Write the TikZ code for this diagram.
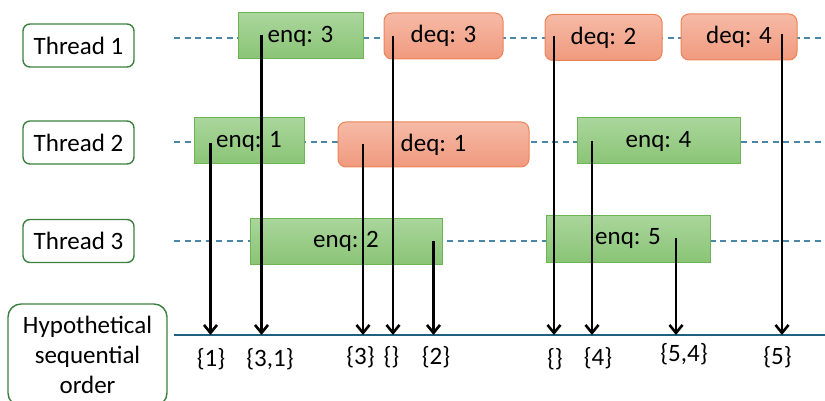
\documentclass[tikz,border=0pt]{standalone}
\usepackage{fontspec}
\setmainfont{Carlito}
\usepackage{tikz}
\usetikzlibrary{arrows.meta}
\definecolor{laneblue}{HTML}{4A86A8}
\definecolor{axisblue}{HTML}{1F5F80}
\definecolor{threadedge}{HTML}{3C8040}
\definecolor{enqtop}{HTML}{AAD69C}
\definecolor{enqbottom}{HTML}{8AC476}
\definecolor{enqedge}{HTML}{6DB552}
\definecolor{deqtop}{HTML}{F6BAA6}
\definecolor{deqbottom}{HTML}{F09A7E}
\definecolor{deqedge}{HTML}{EC8457}

\begin{document}
\begin{tikzpicture}[
  x=1pt, y=-1pt,
  font=\fontsize{25}{30}\selectfont,
  thread/.style={draw=threadedge, line width=1.4pt, fill=white, rounded corners=7pt,
    minimum width=111pt, minimum height=43pt, inner sep=0pt, align=center},
  enq/.style={draw=enqedge, line width=1pt, top color=enqtop, bottom color=enqbottom,
    minimum height=46pt, inner sep=0pt},
  deq/.style={draw=deqedge, line width=1pt, top color=deqtop, bottom color=deqbottom,
    rounded corners=8pt, minimum height=46pt, inner sep=0pt},
  lane/.style={draw=laneblue, line width=1.2pt, dash pattern=on 6pt off 4.5pt},
  lin/.style={-{Straight Barb[length=8pt, width=13pt]}, line width=2.6pt, draw=black},
  setval/.style={inner sep=0pt}
]
  \useasboundingbox (0,0) rectangle (825,401);
  \clip (0,0) rectangle (825,401);

  % lanes
  \draw[lane] (174,38) -- (825,38);
  \draw[lane] (174,142) -- (825,142);
  \draw[lane] (174,241) -- (825,241);

  \node[thread] (t1) at (78.5,45.5) {Thread 1};
  \node[thread] (t2) at (78.5,142.5) {Thread 2};
  \node[thread] (t3) at (78.5,241) {Thread 3};
  \node[thread, rounded corners=13pt, minimum width=159pt, minimum height=102pt]
    (hypo) at (87.5,355) {Hypothetical\\sequential\\order};

  % operations
  \node[enq, minimum width=125pt] (enq3) at (300.5,36) {enq: 3};
  \node[deq, minimum width=119pt] (deq3) at (443.5,36) {deq: 3};
  \node[deq, minimum width=117pt] (deq2) at (603.5,37.5) {deq: 2};
  \node[deq, minimum width=116pt] (deq4) at (739,37) {deq: 4};
  \node[enq, minimum width=110pt] (enq1) at (249,141) {enq: 1};
  \node[deq, minimum width=191pt, minimum height=45pt] (deq1) at (433.5,144.5) {deq: 1};
  \node[enq, minimum width=163pt] (enq4) at (658.5,141) {enq: 4};
  \node[enq, minimum width=192pt] (enq2) at (346,241) {enq: 2};
  \node[enq, minimum width=164pt, minimum height=47pt] (enq5) at (628,238.5) {enq: 5};

  % sequential order axis
  \coordinate (ax0) at (174,335);
  \coordinate (ax1) at (825,335);
  \draw[draw=axisblue, line width=2.6pt] (ax0) -- (ax1);

  % linearization points
  \coordinate (p1) at (210.5,143);
  \coordinate (p2) at (261.5,35);
  \coordinate (p3) at (363,144);
  \coordinate (p4) at (393,36);
  \coordinate (p5) at (433.5,241);
  \coordinate (p6) at (554,36);
  \coordinate (p7) at (592,141);
  \coordinate (p8) at (676,238);
  \coordinate (p9) at (782,34);

  \draw[lin] (p1) -- (p1 |- ax0);
  \draw[lin] (p2) -- (p2 |- ax0);
  \draw[lin] (p3) -- (p3 |- ax0);
  \draw[lin] (p4) -- (p4 |- ax0);
  \draw[lin] (p5) -- (p5 |- ax0);
  \draw[lin] (p6) -- (p6 |- ax0);
  \draw[lin] (p7) -- (p7 |- ax0);
  \draw[lin] (p8) -- (p8 |- ax0);
  \draw[lin] (p9) -- (p9 |- ax0);

  \node[setval] (s1) at (211,359) {\{1\}};
  \node[setval] (s2) at (270,359) {\{3,1\}};
  \node[setval] (s3) at (360.5,357) {\{3\}};
  \node[setval] (s4) at (391.5,357) {\{\}};
  \node[setval] (s5) at (436,357) {\{2\}};
  \node[setval] (s6) at (555,359) {\{\}};
  \node[setval] (s7) at (598,358) {\{4\}};
  \node[setval] (s8) at (684,354) {\{5,4\}};
  \node[setval] (s9) at (777.5,357) {\{5\}};
\end{tikzpicture}
\end{document}
